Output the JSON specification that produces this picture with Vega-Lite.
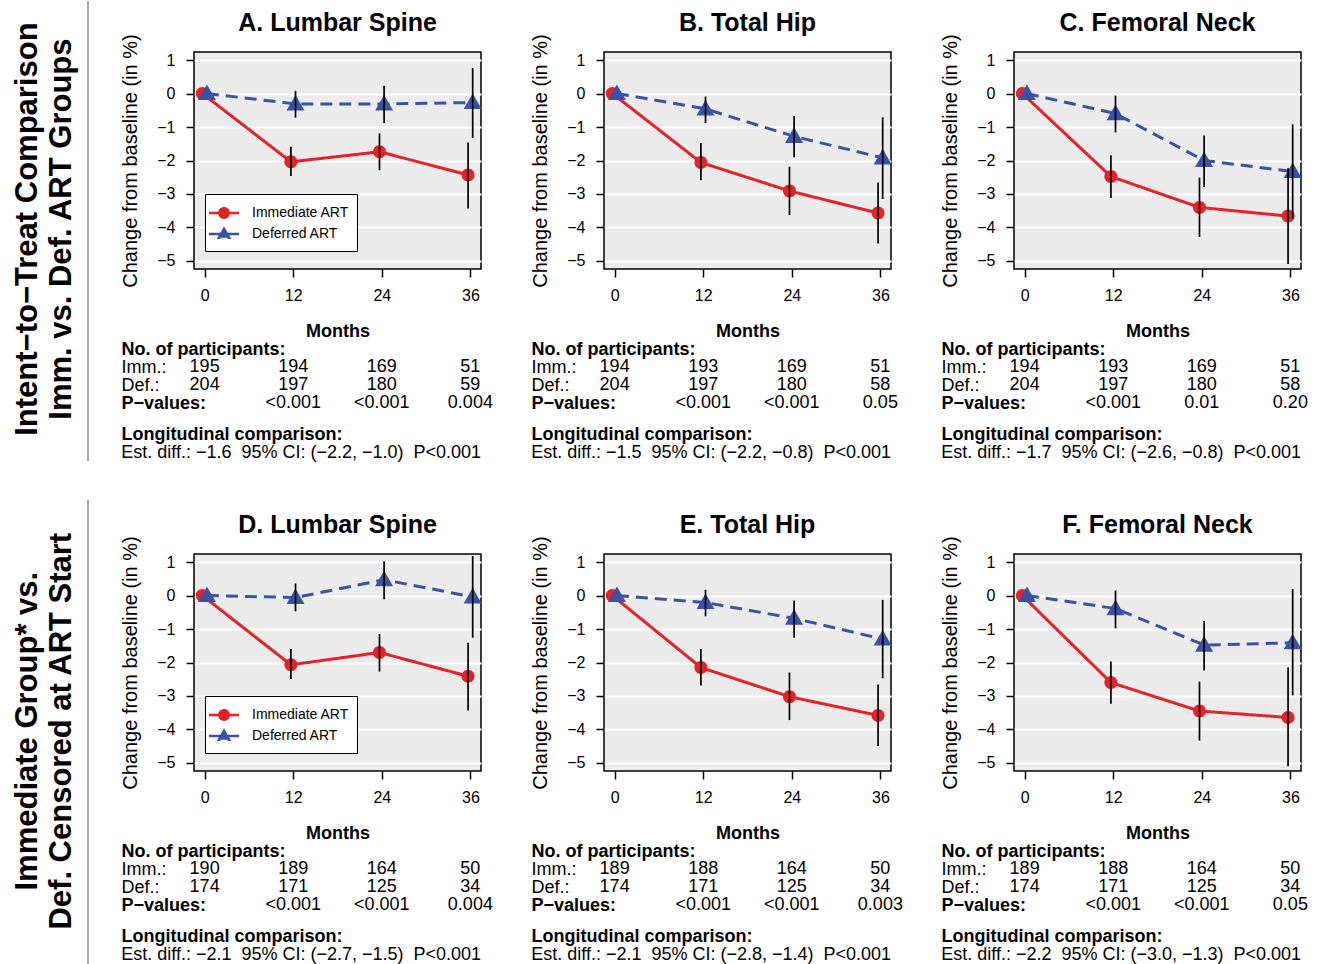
{
"$schema": "https://vega.github.io/schema/vega-lite/v6.json",
"background": "white",
"padding": 0,
"config": {
  "font": "Liberation Sans",
  "view": {"stroke": null},
  "axis": {"labelColor": "black", "labelFontSize": 16, "tickColor": "black", "tickWidth": 1.5, "tickSize": 8, "domain": false, "titleColor": "black", "titleFontWeight": "normal", "labelFont": "Liberation Sans", "titleFont": "Liberation Sans"},
  "legend": {"title": null, "orient": "none", "legendX": 11, "legendY": 142, "fillColor": "white", "strokeColor": "black", "cornerRadius": 0, "padding": 8, "labelFontSize": 14, "labelColor": "black", "labelOffset": 17, "rowPadding": 0, "symbolSize": 353, "symbolStrokeWidth": 2.5},
  "text": {"color": "black"}
},
"datasets": {
  "pts": [
    {"sec":1,"title":"A. Lumbar Spine","grp":"Immediate ART","m":0,"v":0},
    {"sec":1,"title":"A. Lumbar Spine","grp":"Immediate ART","m":12,"v":-2.04,"lo":-2.46,"hi":-1.59},
    {"sec":1,"title":"A. Lumbar Spine","grp":"Immediate ART","m":24,"v":-1.74,"lo":-2.29,"hi":-1.19},
    {"sec":1,"title":"A. Lumbar Spine","grp":"Immediate ART","m":36,"v":-2.43,"lo":-3.43,"hi":-1.46},
    {"sec":1,"title":"A. Lumbar Spine","grp":"Deferred ART","m":0,"v":0},
    {"sec":1,"title":"A. Lumbar Spine","grp":"Deferred ART","m":12,"v":-0.31,"lo":-0.72,"hi":0.08},
    {"sec":1,"title":"A. Lumbar Spine","grp":"Deferred ART","m":24,"v":-0.31,"lo":-0.88,"hi":0.23},
    {"sec":1,"title":"A. Lumbar Spine","grp":"Deferred ART","m":36,"v":-0.27,"lo":-1.33,"hi":0.76},
    {"sec":1,"title":"B. Total Hip","grp":"Immediate ART","m":0,"v":0},
    {"sec":1,"title":"B. Total Hip","grp":"Immediate ART","m":12,"v":-2.06,"lo":-2.59,"hi":-1.48},
    {"sec":1,"title":"B. Total Hip","grp":"Immediate ART","m":24,"v":-2.91,"lo":-3.63,"hi":-2.19},
    {"sec":1,"title":"B. Total Hip","grp":"Immediate ART","m":36,"v":-3.57,"lo":-4.48,"hi":-2.66},
    {"sec":1,"title":"B. Total Hip","grp":"Deferred ART","m":0,"v":0},
    {"sec":1,"title":"B. Total Hip","grp":"Deferred ART","m":12,"v":-0.46,"lo":-0.88,"hi":-0.09},
    {"sec":1,"title":"B. Total Hip","grp":"Deferred ART","m":24,"v":-1.28,"lo":-1.9,"hi":-0.67},
    {"sec":1,"title":"B. Total Hip","grp":"Deferred ART","m":36,"v":-1.92,"lo":-3.15,"hi":-0.71},
    {"sec":1,"title":"C. Femoral Neck","grp":"Immediate ART","m":0,"v":0},
    {"sec":1,"title":"C. Femoral Neck","grp":"Immediate ART","m":12,"v":-2.48,"lo":-3.12,"hi":-1.84},
    {"sec":1,"title":"C. Femoral Neck","grp":"Immediate ART","m":24,"v":-3.4,"lo":-4.28,"hi":-2.51},
    {"sec":1,"title":"C. Femoral Neck","grp":"Immediate ART","m":36,"v":-3.66,"lo":-5.09,"hi":-2.23},
    {"sec":1,"title":"C. Femoral Neck","grp":"Deferred ART","m":0,"v":0},
    {"sec":1,"title":"C. Femoral Neck","grp":"Deferred ART","m":12,"v":-0.6,"lo":-1.16,"hi":-0.06},
    {"sec":1,"title":"C. Femoral Neck","grp":"Deferred ART","m":24,"v":-2.0,"lo":-2.79,"hi":-1.25},
    {"sec":1,"title":"C. Femoral Neck","grp":"Deferred ART","m":36,"v":-2.33,"lo":-3.74,"hi":-0.92},
    {"sec":2,"title":"D. Lumbar Spine","grp":"Immediate ART","m":0,"v":0},
    {"sec":2,"title":"D. Lumbar Spine","grp":"Immediate ART","m":12,"v":-2.07,"lo":-2.49,"hi":-1.6},
    {"sec":2,"title":"D. Lumbar Spine","grp":"Immediate ART","m":24,"v":-1.7,"lo":-2.27,"hi":-1.15},
    {"sec":2,"title":"D. Lumbar Spine","grp":"Immediate ART","m":36,"v":-2.41,"lo":-3.43,"hi":-1.41},
    {"sec":2,"title":"D. Lumbar Spine","grp":"Deferred ART","m":0,"v":0},
    {"sec":2,"title":"D. Lumbar Spine","grp":"Deferred ART","m":12,"v":-0.06,"lo":-0.47,"hi":0.36},
    {"sec":2,"title":"D. Lumbar Spine","grp":"Deferred ART","m":24,"v":0.47,"lo":-0.11,"hi":1.02},
    {"sec":2,"title":"D. Lumbar Spine","grp":"Deferred ART","m":36,"v":-0.04,"lo":-1.26,"hi":1.18},
    {"sec":2,"title":"E. Total Hip","grp":"Immediate ART","m":0,"v":0},
    {"sec":2,"title":"E. Total Hip","grp":"Immediate ART","m":12,"v":-2.15,"lo":-2.69,"hi":-1.6},
    {"sec":2,"title":"E. Total Hip","grp":"Immediate ART","m":24,"v":-3.02,"lo":-3.72,"hi":-2.3},
    {"sec":2,"title":"E. Total Hip","grp":"Immediate ART","m":36,"v":-3.58,"lo":-4.49,"hi":-2.66},
    {"sec":2,"title":"E. Total Hip","grp":"Deferred ART","m":0,"v":0},
    {"sec":2,"title":"E. Total Hip","grp":"Deferred ART","m":12,"v":-0.21,"lo":-0.62,"hi":0.17},
    {"sec":2,"title":"E. Total Hip","grp":"Deferred ART","m":24,"v":-0.68,"lo":-1.26,"hi":-0.15},
    {"sec":2,"title":"E. Total Hip","grp":"Deferred ART","m":36,"v":-1.3,"lo":-2.47,"hi":-0.13},
    {"sec":2,"title":"F. Femoral Neck","grp":"Immediate ART","m":0,"v":0},
    {"sec":2,"title":"F. Femoral Neck","grp":"Immediate ART","m":12,"v":-2.6,"lo":-3.23,"hi":-1.97},
    {"sec":2,"title":"F. Femoral Neck","grp":"Immediate ART","m":24,"v":-3.45,"lo":-4.33,"hi":-2.57},
    {"sec":2,"title":"F. Femoral Neck","grp":"Immediate ART","m":36,"v":-3.64,"lo":-5.1,"hi":-2.15},
    {"sec":2,"title":"F. Femoral Neck","grp":"Deferred ART","m":0,"v":0},
    {"sec":2,"title":"F. Femoral Neck","grp":"Deferred ART","m":12,"v":-0.39,"lo":-0.98,"hi":0.15},
    {"sec":2,"title":"F. Femoral Neck","grp":"Deferred ART","m":24,"v":-1.48,"lo":-2.24,"hi":-0.76},
    {"sec":2,"title":"F. Femoral Neck","grp":"Deferred ART","m":36,"v":-1.41,"lo":-2.98,"hi":0.2}
  ],
  "tab": [
    {"sec":1,"title":"A. Lumbar Spine","line":"imm","m":0,"text":"195"},
    {"sec":1,"title":"A. Lumbar Spine","line":"imm","m":12,"text":"194"},
    {"sec":1,"title":"A. Lumbar Spine","line":"imm","m":24,"text":"169"},
    {"sec":1,"title":"A. Lumbar Spine","line":"imm","m":36,"text":"51"},
    {"sec":1,"title":"A. Lumbar Spine","line":"def","m":0,"text":"204"},
    {"sec":1,"title":"A. Lumbar Spine","line":"def","m":12,"text":"197"},
    {"sec":1,"title":"A. Lumbar Spine","line":"def","m":24,"text":"180"},
    {"sec":1,"title":"A. Lumbar Spine","line":"def","m":36,"text":"59"},
    {"sec":1,"title":"A. Lumbar Spine","line":"p","m":12,"text":"<0.001"},
    {"sec":1,"title":"A. Lumbar Spine","line":"p","m":24,"text":"<0.001"},
    {"sec":1,"title":"A. Lumbar Spine","line":"p","m":36,"text":"0.004"},
    {"sec":1,"title":"A. Lumbar Spine","line":"est","text":"Est. diff.: −1.6 \u00a095% CI: (−2.2, −1.0) \u00a0P<0.001"},
    {"sec":1,"title":"B. Total Hip","line":"imm","m":0,"text":"194"},
    {"sec":1,"title":"B. Total Hip","line":"imm","m":12,"text":"193"},
    {"sec":1,"title":"B. Total Hip","line":"imm","m":24,"text":"169"},
    {"sec":1,"title":"B. Total Hip","line":"imm","m":36,"text":"51"},
    {"sec":1,"title":"B. Total Hip","line":"def","m":0,"text":"204"},
    {"sec":1,"title":"B. Total Hip","line":"def","m":12,"text":"197"},
    {"sec":1,"title":"B. Total Hip","line":"def","m":24,"text":"180"},
    {"sec":1,"title":"B. Total Hip","line":"def","m":36,"text":"58"},
    {"sec":1,"title":"B. Total Hip","line":"p","m":12,"text":"<0.001"},
    {"sec":1,"title":"B. Total Hip","line":"p","m":24,"text":"<0.001"},
    {"sec":1,"title":"B. Total Hip","line":"p","m":36,"text":"0.05"},
    {"sec":1,"title":"B. Total Hip","line":"est","text":"Est. diff.: −1.5 \u00a095% CI: (−2.2, −0.8) \u00a0P<0.001"},
    {"sec":1,"title":"C. Femoral Neck","line":"imm","m":0,"text":"194"},
    {"sec":1,"title":"C. Femoral Neck","line":"imm","m":12,"text":"193"},
    {"sec":1,"title":"C. Femoral Neck","line":"imm","m":24,"text":"169"},
    {"sec":1,"title":"C. Femoral Neck","line":"imm","m":36,"text":"51"},
    {"sec":1,"title":"C. Femoral Neck","line":"def","m":0,"text":"204"},
    {"sec":1,"title":"C. Femoral Neck","line":"def","m":12,"text":"197"},
    {"sec":1,"title":"C. Femoral Neck","line":"def","m":24,"text":"180"},
    {"sec":1,"title":"C. Femoral Neck","line":"def","m":36,"text":"58"},
    {"sec":1,"title":"C. Femoral Neck","line":"p","m":12,"text":"<0.001"},
    {"sec":1,"title":"C. Femoral Neck","line":"p","m":24,"text":"0.01"},
    {"sec":1,"title":"C. Femoral Neck","line":"p","m":36,"text":"0.20"},
    {"sec":1,"title":"C. Femoral Neck","line":"est","text":"Est. diff.: −1.7 \u00a095% CI: (−2.6, −0.8) \u00a0P<0.001"},
    {"sec":2,"title":"D. Lumbar Spine","line":"imm","m":0,"text":"190"},
    {"sec":2,"title":"D. Lumbar Spine","line":"imm","m":12,"text":"189"},
    {"sec":2,"title":"D. Lumbar Spine","line":"imm","m":24,"text":"164"},
    {"sec":2,"title":"D. Lumbar Spine","line":"imm","m":36,"text":"50"},
    {"sec":2,"title":"D. Lumbar Spine","line":"def","m":0,"text":"174"},
    {"sec":2,"title":"D. Lumbar Spine","line":"def","m":12,"text":"171"},
    {"sec":2,"title":"D. Lumbar Spine","line":"def","m":24,"text":"125"},
    {"sec":2,"title":"D. Lumbar Spine","line":"def","m":36,"text":"34"},
    {"sec":2,"title":"D. Lumbar Spine","line":"p","m":12,"text":"<0.001"},
    {"sec":2,"title":"D. Lumbar Spine","line":"p","m":24,"text":"<0.001"},
    {"sec":2,"title":"D. Lumbar Spine","line":"p","m":36,"text":"0.004"},
    {"sec":2,"title":"D. Lumbar Spine","line":"est","text":"Est. diff.: −2.1 \u00a095% CI: (−2.7, −1.5) \u00a0P<0.001"},
    {"sec":2,"title":"E. Total Hip","line":"imm","m":0,"text":"189"},
    {"sec":2,"title":"E. Total Hip","line":"imm","m":12,"text":"188"},
    {"sec":2,"title":"E. Total Hip","line":"imm","m":24,"text":"164"},
    {"sec":2,"title":"E. Total Hip","line":"imm","m":36,"text":"50"},
    {"sec":2,"title":"E. Total Hip","line":"def","m":0,"text":"174"},
    {"sec":2,"title":"E. Total Hip","line":"def","m":12,"text":"171"},
    {"sec":2,"title":"E. Total Hip","line":"def","m":24,"text":"125"},
    {"sec":2,"title":"E. Total Hip","line":"def","m":36,"text":"34"},
    {"sec":2,"title":"E. Total Hip","line":"p","m":12,"text":"<0.001"},
    {"sec":2,"title":"E. Total Hip","line":"p","m":24,"text":"<0.001"},
    {"sec":2,"title":"E. Total Hip","line":"p","m":36,"text":"0.003"},
    {"sec":2,"title":"E. Total Hip","line":"est","text":"Est. diff.: −2.1 \u00a095% CI: (−2.8, −1.4) \u00a0P<0.001"},
    {"sec":2,"title":"F. Femoral Neck","line":"imm","m":0,"text":"189"},
    {"sec":2,"title":"F. Femoral Neck","line":"imm","m":12,"text":"188"},
    {"sec":2,"title":"F. Femoral Neck","line":"imm","m":24,"text":"164"},
    {"sec":2,"title":"F. Femoral Neck","line":"imm","m":36,"text":"50"},
    {"sec":2,"title":"F. Femoral Neck","line":"def","m":0,"text":"174"},
    {"sec":2,"title":"F. Femoral Neck","line":"def","m":12,"text":"171"},
    {"sec":2,"title":"F. Femoral Neck","line":"def","m":24,"text":"125"},
    {"sec":2,"title":"F. Femoral Neck","line":"def","m":36,"text":"34"},
    {"sec":2,"title":"F. Femoral Neck","line":"p","m":12,"text":"<0.001"},
    {"sec":2,"title":"F. Femoral Neck","line":"p","m":24,"text":"<0.001"},
    {"sec":2,"title":"F. Femoral Neck","line":"p","m":36,"text":"0.05"},
    {"sec":2,"title":"F. Femoral Neck","line":"est","text":"Est. diff.: −2.2 \u00a095% CI: (−3.0, −1.3) \u00a0P<0.001"}
  ]
},
"resolve": {"scale": {"color": "independent", "shape": "independent", "strokeDash": "independent"}, "legend": {"color": "independent", "shape": "independent", "strokeDash": "independent"}},
"spacing": 37,
"vconcat": [
 {
  "spacing": 31,
  "resolve": {"scale": {"color": "independent", "shape": "independent", "strokeDash": "independent"}, "legend": {"color": "independent", "shape": "independent", "strokeDash": "independent"}},
  "hconcat": [
   {
    "width": 88, "height": 409,
    "data": {"values": [{"t": "Intent−to−Treat Comparison\nImm. vs. Def. ART Groups"}]},
    "layer": [
     {"mark": {"type": "text", "angle": 270, "fontSize": 31, "fontWeight": "bold", "lineBreak": "\n", "lineHeight": 34, "align": "center", "baseline": "middle", "color": "black"},
      "encoding": {
       "x": {"datum": 0.318, "type": "quantitative", "scale": {"domain": [0, 1], "nice": false, "zero": false}, "axis": null},
       "y": {"datum": 0.567, "type": "quantitative", "scale": {"domain": [0, 1], "nice": false, "zero": false}, "axis": null},
       "text": {"field": "t"}}},
     {"mark": {"type": "rule", "color": "#8c8c8c", "strokeWidth": 1.5},
      "encoding": {
       "x": {"datum": 1, "type": "quantitative", "scale": {"domain": [0, 1], "nice": false, "zero": false}, "axis": null},
       "y": {"datum": 0, "type": "quantitative", "scale": {"domain": [0, 1], "nice": false, "zero": false}, "axis": null},
       "y2": {"datum": 1.1247}}}
    ]
   },
   {
    "spacing": 0,
    "resolve": {"scale": {"color": "independent", "shape": "independent", "strokeDash": "independent"}, "legend": {"color": "independent", "shape": "independent", "strokeDash": "independent"}},
    "vconcat": [
     {
      "data": {"name": "pts"},
      "transform": [{"filter": "datum.sec === 1"}],
      "facet": {"column": {"field": "title", "type": "nominal", "sort": ["A. Lumbar Spine", "B. Total Hip", "C. Femoral Neck"], "header": {"title": null, "labelFontSize": 25, "labelFontWeight": "bold", "labelColor": "black", "labelPadding": 16, "labelFont": "Liberation Sans"}}},
      "spacing": 123,
      "bounds": "flush",
      "resolve": {"axis": {"y": "independent"}},
      "spec": {
       "width": 287, "height": 217,
       "view": {"fill": "#EBEBEB", "stroke": "black", "strokeWidth": 1.5},
       "encoding": {
        "x": {"field": "m", "type": "quantitative", "scale": {"domain": [-1.44, 37.44], "nice": false, "zero": false}, "axis": {"values": [0, 12, 24, 36], "title": "Months", "titleFontSize": 18, "titleFontWeight": "bold", "titlePadding": 19, "labelPadding": 10, "grid": false}},
        "color": {"field": "grp", "type": "nominal", "scale": {"domain": ["Immediate ART", "Deferred ART"], "range": ["#E52228", "#3953A4"]}, "legend": {"title": null}}
       },
       "layer": [
        {"transform": [{"filter": "datum.grp === 'Immediate ART'"}],
         "mark": {"type": "line", "xOffset": -2.3, "strokeWidth": 3},
         "encoding": {
          "y": {"field": "v", "type": "quantitative", "scale": {"domain": [-5.24, 1.24], "nice": false, "zero": false}, "axis": {"values": [-5, -4, -3, -2, -1, 0, 1], "title": "Change from baseline (in %)", "titleFontSize": 20, "titlePadding": 16, "labelPadding": 11, "grid": true, "gridColor": "white", "gridWidth": 2}},
          "strokeDash": {"field": "grp", "type": "nominal", "scale": {"domain": ["Immediate ART", "Deferred ART"], "range": [[1, 0], [12, 7]]}, "legend": {"title": null}}
         }},
        {"transform": [{"filter": "datum.grp === 'Deferred ART'"}],
         "mark": {"type": "line", "xOffset": 2.3, "strokeWidth": 3},
         "encoding": {
          "y": {"field": "v", "type": "quantitative", "scale": {"domain": [-5.24, 1.24], "nice": false, "zero": false}, "axis": {"values": [-5, -4, -3, -2, -1, 0, 1], "title": "Change from baseline (in %)", "titleFontSize": 20, "titlePadding": 16, "labelPadding": 11, "grid": true, "gridColor": "white", "gridWidth": 2}},
          "strokeDash": {"field": "grp", "type": "nominal", "scale": {"domain": ["Immediate ART", "Deferred ART"], "range": [[1, 0], [12, 7]]}, "legend": {"title": null}}
         }},
        {"transform": [{"filter": "datum.grp === 'Immediate ART'"}],
         "mark": {"type": "point", "filled": true, "opacity": 1, "size": 676, "xOffset": -2.3},
         "encoding": {
          "y": {"field": "v", "type": "quantitative", "scale": {"domain": [-5.24, 1.24], "nice": false, "zero": false}, "axis": {"values": [-5, -4, -3, -2, -1, 0, 1], "title": "Change from baseline (in %)", "titleFontSize": 20, "titlePadding": 16, "labelPadding": 11, "grid": true, "gridColor": "white", "gridWidth": 2}},
          "shape": {"field": "grp", "type": "nominal", "scale": {"domain": ["Immediate ART", "Deferred ART"], "range": ["M-1.6,0H1.6M0.5,0A0.5,0.5,0,1,1,-0.5,0A0.5,0.5,0,1,1,0.5,0Z", "M-1.6,0H1.6M0,-0.55L0.55,0.4L-0.55,0.4Z"]}, "legend": {"title": null}}
         }},
        {"transform": [{"filter": "datum.grp === 'Deferred ART'"}],
         "mark": {"type": "point", "filled": true, "opacity": 1, "size": 1075, "xOffset": 2.3},
         "encoding": {
          "y": {"field": "v", "type": "quantitative", "scale": {"domain": [-5.24, 1.24], "nice": false, "zero": false}, "axis": {"values": [-5, -4, -3, -2, -1, 0, 1], "title": "Change from baseline (in %)", "titleFontSize": 20, "titlePadding": 16, "labelPadding": 11, "grid": true, "gridColor": "white", "gridWidth": 2}},
          "shape": {"field": "grp", "type": "nominal", "scale": {"domain": ["Immediate ART", "Deferred ART"], "range": ["M-1.6,0H1.6M0.5,0A0.5,0.5,0,1,1,-0.5,0A0.5,0.5,0,1,1,0.5,0Z", "M-1.6,0H1.6M0,-0.55L0.55,0.4L-0.55,0.4Z"]}, "legend": {"title": null}}
         }},
        {"transform": [{"filter": "datum.grp === 'Immediate ART' && isValid(datum.lo)"}],
         "mark": {"type": "rule", "xOffset": -2.3, "color": "black", "strokeWidth": 1.7},
         "encoding": {
          "y": {"field": "lo", "type": "quantitative", "scale": {"domain": [-5.24, 1.24], "nice": false, "zero": false}, "axis": {"values": [-5, -4, -3, -2, -1, 0, 1], "title": "Change from baseline (in %)", "titleFontSize": 20, "titlePadding": 16, "labelPadding": 11, "grid": true, "gridColor": "white", "gridWidth": 2}},
          "y2": {"field": "hi"},
          "color": {"value": "black"}
         }},
        {"transform": [{"filter": "datum.grp === 'Deferred ART' && isValid(datum.lo)"}],
         "mark": {"type": "rule", "xOffset": 2.3, "color": "black", "strokeWidth": 1.7},
         "encoding": {
          "y": {"field": "lo", "type": "quantitative", "scale": {"domain": [-5.24, 1.24], "nice": false, "zero": false}, "axis": {"values": [-5, -4, -3, -2, -1, 0, 1], "title": "Change from baseline (in %)", "titleFontSize": 20, "titlePadding": 16, "labelPadding": 11, "grid": true, "gridColor": "white", "gridWidth": 2}},
          "y2": {"field": "hi"},
          "color": {"value": "black"}
         }}
       ]
      }
     },
     {
      "data": {"name": "tab"},
      "transform": [{"filter": "datum.sec === 1"}],
      "facet": {"column": {"field": "title", "type": "nominal", "sort": ["A. Lumbar Spine", "B. Total Hip", "C. Femoral Neck"], "header": null}},
      "spacing": 123,
      "bounds": "flush",
      "resolve": {"axis": {"y": "independent"}},
      "spec": {
       "width": 287, "height": 108,
       "layer": [
        {"transform": [{"filter": "datum.line !== 'est'"}],
         "mark": {"type": "text", "fontSize": 18, "baseline": "middle", "color": "black"},
         "encoding": {
          "x": {"field": "m", "type": "quantitative", "scale": {"domain": [-1.44, 37.44], "nice": false, "zero": false}, "axis": null},
          "y": {"field": "line", "type": "ordinal", "scale": {"type": "point", "domain": ["n", "a1", "a2", "a3", "imm", "b1", "b2", "b3", "def", "c1", "c2", "c3", "p", "d1", "d2", "d3", "d4", "d5", "d6", "long", "e1", "e2", "e3", "est"], "padding": 0.5},
           "axis": {"title": null, "domain": false, "ticks": false, "grid": false, "labelAlign": "left", "labelPadding": 73, "labelFontSize": 18, "labelLimit": 0, "labelOverlap": false, "labelBaseline": "middle",
            "labelExpr": "datum.value === 'n' ? 'No. of participants:' : datum.value === 'imm' ? 'Imm.:' : datum.value === 'def' ? 'Def.:' : datum.value === 'p' ? 'P−values:' : datum.value === 'long' ? 'Longitudinal comparison:' : ''",
            "labelFontWeight": {"condition": {"test": "datum.value === 'n' || datum.value === 'p' || datum.value === 'long'", "value": "bold"}, "value": "normal"}}},
          "text": {"field": "text"}
         }},
        {"transform": [{"filter": "datum.line === 'est'"}],
         "mark": {"type": "text", "fontSize": 18, "align": "left", "baseline": "middle", "color": "black"},
         "encoding": {
          "x": {"datum": -11.3},
          "y": {"field": "line", "type": "ordinal", "scale": {"type": "point", "domain": ["n", "a1", "a2", "a3", "imm", "b1", "b2", "b3", "def", "c1", "c2", "c3", "p", "d1", "d2", "d3", "d4", "d5", "d6", "long", "e1", "e2", "e3", "est"], "padding": 0.5}},
          "text": {"field": "text"}
         }}
       ]
      }
     }
    ]
   }
  ]
 },
 {
  "spacing": 31,
  "resolve": {"scale": {"color": "independent", "shape": "independent", "strokeDash": "independent"}, "legend": {"color": "independent", "shape": "independent", "strokeDash": "independent"}},
  "hconcat": [
   {
    "width": 88, "height": 413,
    "data": {"values": [{"t": "Immediate Group* vs.\nDef. Censored at ART Start"}]},
    "layer": [
     {"mark": {"type": "text", "angle": 270, "fontSize": 31, "fontWeight": "bold", "lineBreak": "\n", "lineHeight": 34, "align": "center", "baseline": "middle", "color": "black"},
      "encoding": {
       "x": {"datum": 0.318, "type": "quantitative", "scale": {"domain": [0, 1], "nice": false, "zero": false}, "axis": null},
       "y": {"datum": 0.571, "type": "quantitative", "scale": {"domain": [0, 1], "nice": false, "zero": false}, "axis": null},
       "text": {"field": "t"}}},
     {"mark": {"type": "rule", "color": "#8c8c8c", "strokeWidth": 1.5},
      "encoding": {
       "x": {"datum": 1, "type": "quantitative", "scale": {"domain": [0, 1], "nice": false, "zero": false}, "axis": null},
       "y": {"datum": 0, "type": "quantitative", "scale": {"domain": [0, 1], "nice": false, "zero": false}, "axis": null},
       "y2": {"datum": 1.131}}}
    ]
   },
   {
    "spacing": 0,
    "resolve": {"scale": {"color": "independent", "shape": "independent", "strokeDash": "independent"}, "legend": {"color": "independent", "shape": "independent", "strokeDash": "independent"}},
    "vconcat": [
     {
      "data": {"name": "pts"},
      "transform": [{"filter": "datum.sec === 2"}],
      "facet": {"column": {"field": "title", "type": "nominal", "sort": ["D. Lumbar Spine", "E. Total Hip", "F. Femoral Neck"], "header": {"title": null, "labelFontSize": 25, "labelFontWeight": "bold", "labelColor": "black", "labelPadding": 16, "labelFont": "Liberation Sans"}}},
      "spacing": 123,
      "bounds": "flush",
      "resolve": {"axis": {"y": "independent"}},
      "spec": {
       "width": 287, "height": 217,
       "view": {"fill": "#EBEBEB", "stroke": "black", "strokeWidth": 1.5},
       "encoding": {
        "x": {"field": "m", "type": "quantitative", "scale": {"domain": [-1.44, 37.44], "nice": false, "zero": false}, "axis": {"values": [0, 12, 24, 36], "title": "Months", "titleFontSize": 18, "titleFontWeight": "bold", "titlePadding": 19, "labelPadding": 10, "grid": false}},
        "color": {"field": "grp", "type": "nominal", "scale": {"domain": ["Immediate ART", "Deferred ART"], "range": ["#E52228", "#3953A4"]}, "legend": {"title": null}}
       },
       "layer": [
        {"transform": [{"filter": "datum.grp === 'Immediate ART'"}],
         "mark": {"type": "line", "xOffset": -2.3, "strokeWidth": 3},
         "encoding": {
          "y": {"field": "v", "type": "quantitative", "scale": {"domain": [-5.24, 1.24], "nice": false, "zero": false}, "axis": {"values": [-5, -4, -3, -2, -1, 0, 1], "title": "Change from baseline (in %)", "titleFontSize": 20, "titlePadding": 16, "labelPadding": 11, "grid": true, "gridColor": "white", "gridWidth": 2}},
          "strokeDash": {"field": "grp", "type": "nominal", "scale": {"domain": ["Immediate ART", "Deferred ART"], "range": [[1, 0], [12, 7]]}, "legend": {"title": null}}
         }},
        {"transform": [{"filter": "datum.grp === 'Deferred ART'"}],
         "mark": {"type": "line", "xOffset": 2.3, "strokeWidth": 3},
         "encoding": {
          "y": {"field": "v", "type": "quantitative", "scale": {"domain": [-5.24, 1.24], "nice": false, "zero": false}, "axis": {"values": [-5, -4, -3, -2, -1, 0, 1], "title": "Change from baseline (in %)", "titleFontSize": 20, "titlePadding": 16, "labelPadding": 11, "grid": true, "gridColor": "white", "gridWidth": 2}},
          "strokeDash": {"field": "grp", "type": "nominal", "scale": {"domain": ["Immediate ART", "Deferred ART"], "range": [[1, 0], [12, 7]]}, "legend": {"title": null}}
         }},
        {"transform": [{"filter": "datum.grp === 'Immediate ART'"}],
         "mark": {"type": "point", "filled": true, "opacity": 1, "size": 676, "xOffset": -2.3},
         "encoding": {
          "y": {"field": "v", "type": "quantitative", "scale": {"domain": [-5.24, 1.24], "nice": false, "zero": false}, "axis": {"values": [-5, -4, -3, -2, -1, 0, 1], "title": "Change from baseline (in %)", "titleFontSize": 20, "titlePadding": 16, "labelPadding": 11, "grid": true, "gridColor": "white", "gridWidth": 2}},
          "shape": {"field": "grp", "type": "nominal", "scale": {"domain": ["Immediate ART", "Deferred ART"], "range": ["M-1.6,0H1.6M0.5,0A0.5,0.5,0,1,1,-0.5,0A0.5,0.5,0,1,1,0.5,0Z", "M-1.6,0H1.6M0,-0.55L0.55,0.4L-0.55,0.4Z"]}, "legend": {"title": null}}
         }},
        {"transform": [{"filter": "datum.grp === 'Deferred ART'"}],
         "mark": {"type": "point", "filled": true, "opacity": 1, "size": 1075, "xOffset": 2.3},
         "encoding": {
          "y": {"field": "v", "type": "quantitative", "scale": {"domain": [-5.24, 1.24], "nice": false, "zero": false}, "axis": {"values": [-5, -4, -3, -2, -1, 0, 1], "title": "Change from baseline (in %)", "titleFontSize": 20, "titlePadding": 16, "labelPadding": 11, "grid": true, "gridColor": "white", "gridWidth": 2}},
          "shape": {"field": "grp", "type": "nominal", "scale": {"domain": ["Immediate ART", "Deferred ART"], "range": ["M-1.6,0H1.6M0.5,0A0.5,0.5,0,1,1,-0.5,0A0.5,0.5,0,1,1,0.5,0Z", "M-1.6,0H1.6M0,-0.55L0.55,0.4L-0.55,0.4Z"]}, "legend": {"title": null}}
         }},
        {"transform": [{"filter": "datum.grp === 'Immediate ART' && isValid(datum.lo)"}],
         "mark": {"type": "rule", "xOffset": -2.3, "color": "black", "strokeWidth": 1.7},
         "encoding": {
          "y": {"field": "lo", "type": "quantitative", "scale": {"domain": [-5.24, 1.24], "nice": false, "zero": false}, "axis": {"values": [-5, -4, -3, -2, -1, 0, 1], "title": "Change from baseline (in %)", "titleFontSize": 20, "titlePadding": 16, "labelPadding": 11, "grid": true, "gridColor": "white", "gridWidth": 2}},
          "y2": {"field": "hi"},
          "color": {"value": "black"}
         }},
        {"transform": [{"filter": "datum.grp === 'Deferred ART' && isValid(datum.lo)"}],
         "mark": {"type": "rule", "xOffset": 2.3, "color": "black", "strokeWidth": 1.7},
         "encoding": {
          "y": {"field": "lo", "type": "quantitative", "scale": {"domain": [-5.24, 1.24], "nice": false, "zero": false}, "axis": {"values": [-5, -4, -3, -2, -1, 0, 1], "title": "Change from baseline (in %)", "titleFontSize": 20, "titlePadding": 16, "labelPadding": 11, "grid": true, "gridColor": "white", "gridWidth": 2}},
          "y2": {"field": "hi"},
          "color": {"value": "black"}
         }}
       ]
      }
     },
     {
      "data": {"name": "tab"},
      "transform": [{"filter": "datum.sec === 2"}],
      "facet": {"column": {"field": "title", "type": "nominal", "sort": ["D. Lumbar Spine", "E. Total Hip", "F. Femoral Neck"], "header": null}},
      "spacing": 123,
      "bounds": "flush",
      "resolve": {"axis": {"y": "independent"}},
      "spec": {
       "width": 287, "height": 108,
       "layer": [
        {"transform": [{"filter": "datum.line !== 'est'"}],
         "mark": {"type": "text", "fontSize": 18, "baseline": "middle", "color": "black"},
         "encoding": {
          "x": {"field": "m", "type": "quantitative", "scale": {"domain": [-1.44, 37.44], "nice": false, "zero": false}, "axis": null},
          "y": {"field": "line", "type": "ordinal", "scale": {"type": "point", "domain": ["n", "a1", "a2", "a3", "imm", "b1", "b2", "b3", "def", "c1", "c2", "c3", "p", "d1", "d2", "d3", "d4", "d5", "d6", "long", "e1", "e2", "e3", "est"], "padding": 0.5},
           "axis": {"title": null, "domain": false, "ticks": false, "grid": false, "labelAlign": "left", "labelPadding": 73, "labelFontSize": 18, "labelLimit": 0, "labelOverlap": false, "labelBaseline": "middle",
            "labelExpr": "datum.value === 'n' ? 'No. of participants:' : datum.value === 'imm' ? 'Imm.:' : datum.value === 'def' ? 'Def.:' : datum.value === 'p' ? 'P−values:' : datum.value === 'long' ? 'Longitudinal comparison:' : ''",
            "labelFontWeight": {"condition": {"test": "datum.value === 'n' || datum.value === 'p' || datum.value === 'long'", "value": "bold"}, "value": "normal"}}},
          "text": {"field": "text"}
         }},
        {"transform": [{"filter": "datum.line === 'est'"}],
         "mark": {"type": "text", "fontSize": 18, "align": "left", "baseline": "middle", "color": "black"},
         "encoding": {
          "x": {"datum": -11.3},
          "y": {"field": "line", "type": "ordinal", "scale": {"type": "point", "domain": ["n", "a1", "a2", "a3", "imm", "b1", "b2", "b3", "def", "c1", "c2", "c3", "p", "d1", "d2", "d3", "d4", "d5", "d6", "long", "e1", "e2", "e3", "est"], "padding": 0.5}},
          "text": {"field": "text"}
         }}
       ]
      }
     }
    ]
   }
  ]
 }
]
}
